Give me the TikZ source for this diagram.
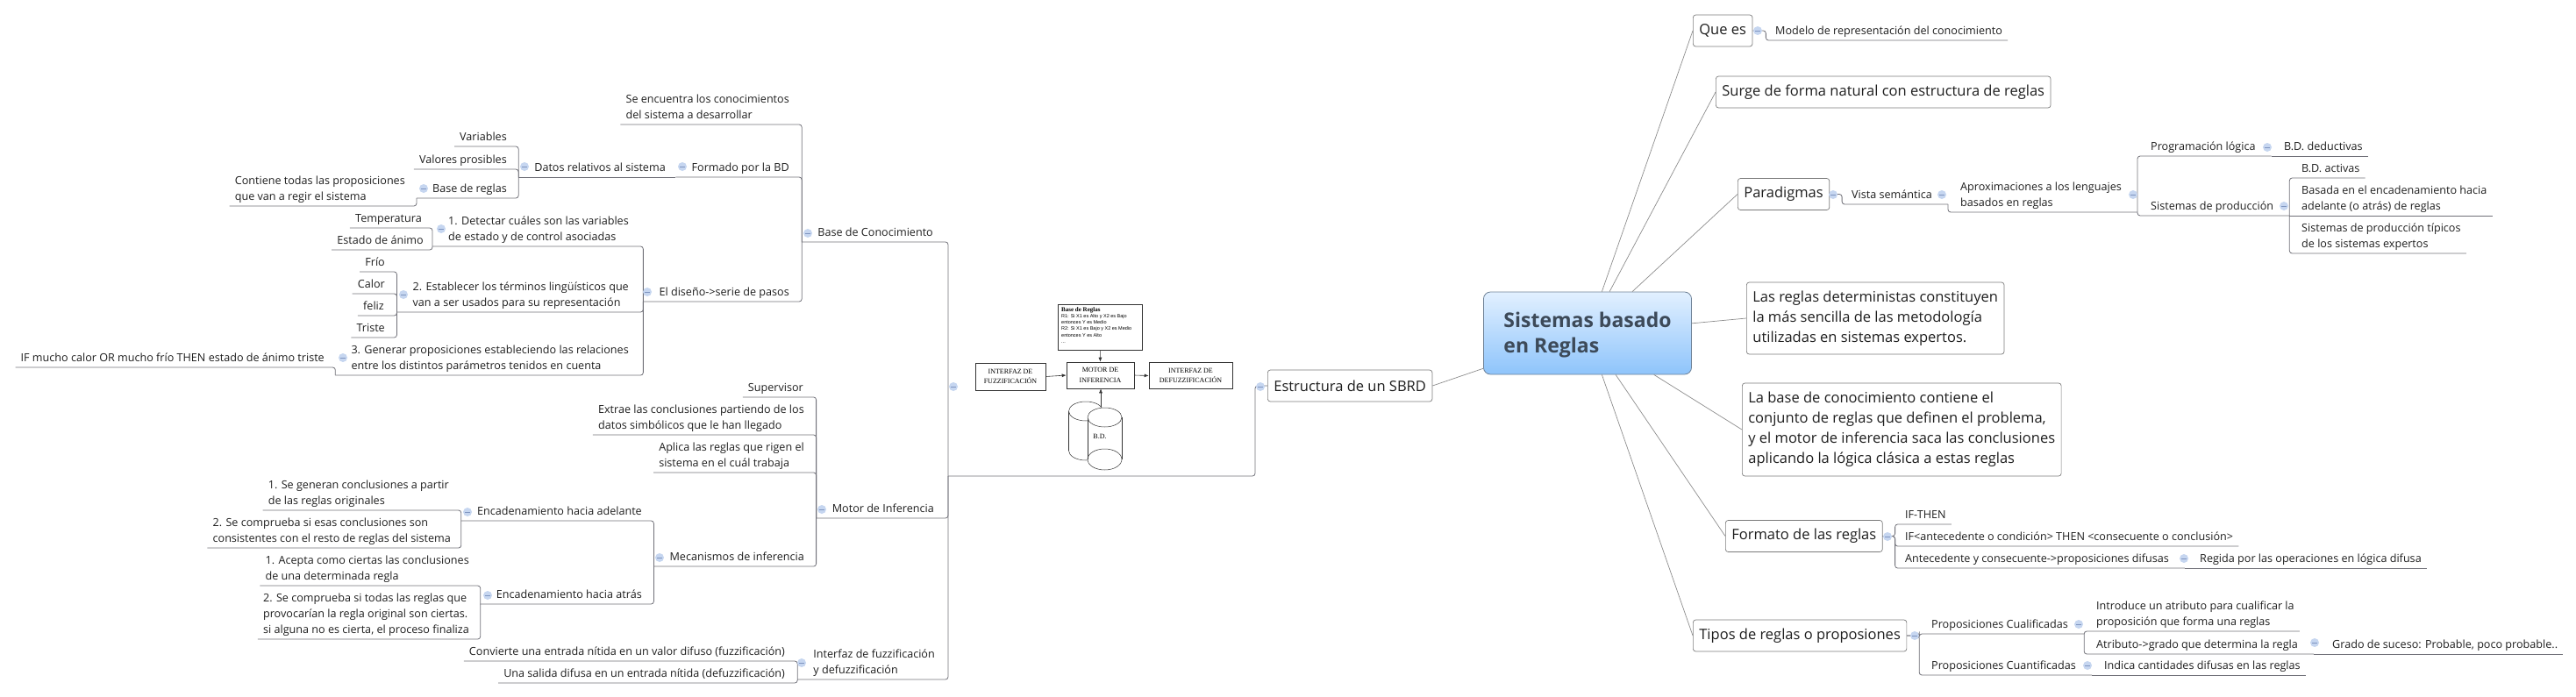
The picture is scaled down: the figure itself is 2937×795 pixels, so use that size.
\documentclass[tikz,border=0pt]{standalone}
\usepackage{fontspec}
\setmainfont{Open Sans}
\newfontfamily\imgserif{Liberation Serif}
\newfontfamily\imgsans{Liberation Sans}
\usetikzlibrary{arrows.meta}
\definecolor{linkgray}{HTML}{707078}
\definecolor{branchgray}{HTML}{8C8C8C}
\definecolor{boxgray}{HTML}{7A7A7A}
\definecolor{foldblue}{HTML}{C6D6F0}
\definecolor{foldmark}{HTML}{7F95C0}
\definecolor{rootline}{HTML}{6E8196}
\definecolor{roottop}{HTML}{E2F0FF}
\definecolor{rootbottom}{HTML}{8EC4FB}
\definecolor{roottext}{HTML}{3D4A59}
\definecolor{inktext}{HTML}{1E1E1E}
\tikzset{
	topic/.style={font=\fontsize{12.6}{18}\selectfont,text=inktext,align=left,inner xsep=18pt,inner ysep=0pt,text depth=6.5pt},
	topicL/.style={topic,anchor=south east},
	topicR/.style={topic,anchor=south west},
	link/.style={draw=linkgray,line width=.8pt,rounded corners=3pt},
	leafL/.style={link,shorten <=12pt},
	leafR/.style={link,shorten >=12pt},
	mainbox/.style={draw=boxgray,line width=.7pt,rounded corners=3pt,anchor=west,align=left,fill=white,text=inktext,font=\fontsize{16.5}{23}\selectfont,inner xsep=7pt,minimum height=36pt},
	branch/.style={draw=branchgray,line width=.7pt},
	fold/.style={circle,fill=foldblue,inner sep=0pt,minimum size=10pt,path picture={\draw[foldmark,line width=.8pt] ([xshift=2pt]path picture bounding box.west) -- ([xshift=-2pt]path picture bounding box.east);}},
	imgbox/.style={draw=black!80,line width=.6pt,fill=white,align=center,inner sep=0pt,font=\imgserif\fontsize{8}{11.5}\selectfont},
	imgarrow/.style={draw=black!80,line width=.6pt,-{Latex[length=5pt,width=4pt]}},
	imgline/.style={draw=black!80,line width=.5pt}
}
\begin{document}
\begin{tikzpicture}[x=1pt,y=-1pt]
	\useasboundingbox (0,0) rectangle (2937,795);
	
	% Central topic
	\node[draw=rootline,line width=.8pt,rounded corners=8pt,top color=roottop,bottom color=rootbottom,anchor=west,align=left,text=roottext,font=\fontsize{23}{29}\bfseries\selectfont,inner xsep=23pt,minimum height=94pt,text depth=2pt] (root) at (1691,380) {Sistemas basado\\en Reglas};
	
	% Boxes on the right
	\node[mainbox] (quees) at (1930,35) {Que es};
	\node[mainbox] (surge) at (1956,105) {Surge de forma natural con estructura de reglas};
	\node[mainbox] (paradigmas) at (1981,221.5) {Paradigmas};
	\node[mainbox,minimum height=82pt] (deterministas) at (1991,363) {Las reglas deterministas constituyen\\la más sencilla de las metodología\\utilizadas en sistemas expertos.};
	\node[mainbox,minimum height=106pt] (labase) at (1986,490) {La base de conocimiento contiene el\\conjunto de reglas que definen el problema,\\y el motor de inferencia saca las conclusiones\\aplicando la lógica clásica a estas reglas};
	\node[mainbox] (formato) at (1967,611.5) {Formato de las reglas};
	\node[mainbox] (tipos) at (1930,725) {Tipos de reglas o proposiones};
	
	% Box on the left
	\node[mainbox] (estructura) at (1445,440) {Estructura de un SBRD};
	\coordinate (split) at (1081,543);
	
	\draw[branch] (root) -- (quees.west);
	\draw[branch] (root) -- (surge.west);
	\draw[branch] (root) -- (paradigmas.west);
	\draw[branch] (root) -- (deterministas.west);
	\draw[branch] (root) -- (labase.west);
	\draw[branch] (root) -- (formato.west);
	\draw[branch] (root) -- (tipos.west);
	\draw[branch] (root) -- (estructura.east);
	
	% Base de Conocimiento
	\node[topicL] (base) at (1082,276) {Base de Conocimiento};
	\node[topicL] (senc) at (918,142) {Se encuentra los conocimientos\\del sistema a desarrollar};
	\node[topicL] (formado) at (918,202) {Formado por la BD};
	\node[topicL] (datos) at (777,202) {Datos relativos al sistema};
	\node[topicL] (vars) at (596,167) {Variables};
	\node[topicL] (valores) at (596,193) {Valores prosibles};
	\node[topicL] (reglas) at (596,226) {Base de reglas};
	\node[topicL] (contiene) at (480,235) {Contiene todas las proposiciones\\que van a regir el sistema};
	\node[topicL] (diseno) at (918,344) {El diseño->serie de pasos};
	\node[topicL] (detectar) at (735,281) {1. Detectar cuáles son las variables\\de estado y de control asociadas};
	\node[topicL] (temp) at (499,260) {Temperatura};
	\node[topicL] (estado) at (501,285) {Estado de ánimo};
	\node[topicL] (establecer) at (735,356) {2. Establecer los términos lingüísticos que\\van a ser usados para su representación};
	\node[topicL] (frio) at (457,310) {Frío};
	\node[topicL] (calor) at (457,335) {Calor};
	\node[topicL] (feliz) at (456,360) {feliz};
	\node[topicL] (triste) at (457,385) {Triste};
	\node[topicL] (generar) at (735,428) {3. Generar proposiciones estableciendo las relaciones\\entre los distintos parámetros tenidos en cuenta};
	\node[topicL] (ifmucho) at (388,419) {IF mucho calor OR mucho frío THEN estado de ánimo triste};
	
	\draw[link] (base.south west) -| (split);
	\draw[leafL] (senc.south west) -| (base.south west);
	\draw[link] (formado.south west) -| (base.south west);
	\draw[link] (diseno.south west) -| (base.south west);
	\draw[link] (datos.south west) -- (formado.south west);
	\draw[leafL] (vars.south west) -| (datos.south west);
	\draw[leafL] (valores.south west) -| (datos.south west);
	\draw[link] (reglas.south west) -| (datos.south west);
	\draw[leafL] (contiene.south west) -| (reglas.south west);
	\draw[link] (detectar.south west) -| (diseno.south west);
	\draw[link] (establecer.south west) -| (diseno.south west);
	\draw[link] (generar.south west) -| (diseno.south west);
	\draw[leafL] (temp.south west) -| (detectar.south west);
	\draw[leafL] (estado.south west) -| (detectar.south west);
	\draw[leafL] (frio.south west) -| (establecer.south west);
	\draw[leafL] (calor.south west) -| (establecer.south west);
	\draw[leafL] (feliz.south west) -| (establecer.south west);
	\draw[leafL] (triste.south west) -| (establecer.south west);
	\draw[leafL] (ifmucho.south west) -| (generar.south west);
	
	% Motor de Inferencia
	\node[topicL] (motor) at (1083,591) {Motor de Inferencia};
	\node[topicL] (supervisor) at (934,453) {Supervisor};
	\node[topicL] (extrae) at (935,496) {Extrae las conclusiones partiendo de los\\datos simbólicos que le han llegado};
	\node[topicL] (aplica) at (935,539) {Aplica las reglas que rigen el\\sistema en el cuál trabaja};
	\node[topicL] (mecanismos) at (935,646) {Mecanismos de inferencia};
	\node[topicL] (adelante) at (750,594) {Encadenamiento hacia adelante};
	\node[topicL] (genera) at (530,582) {1. Se generan conclusiones a partir\\de las reglas originales};
	\node[topicL] (comprueba) at (532,625) {2. Se comprueba si esas conclusiones son\\consistentes con el resto de reglas del sistema};
	\node[topicL] (atras) at (750,689) {Encadenamiento hacia atrás};
	\node[topicL] (acepta) at (553,668) {1. Acepta como ciertas las conclusiones\\de una determinada regla};
	\node[topicL] (todas) at (553,729) {2. Se comprueba si todas las reglas que\\provocarían la regla original son ciertas.\\si alguna no es cierta, el proceso finaliza};
	
	\draw[link] (motor.south west) -| (split);
	\draw[leafL] (supervisor.south west) -| (motor.south west);
	\draw[leafL] (extrae.south west) -| (motor.south west);
	\draw[leafL] (aplica.south west) -| (motor.south west);
	\draw[link] (mecanismos.south west) -| (motor.south west);
	\draw[link] (adelante.south west) -| (mecanismos.south west);
	\draw[link] (atras.south west) -| (mecanismos.south west);
	\draw[leafL] (genera.south west) -| (adelante.south west);
	\draw[leafL] (comprueba.south west) -| (adelante.south west);
	\draw[leafL] (acepta.south west) -| (atras.south west);
	\draw[leafL] (todas.south west) -| (atras.south west);
	
	% Interfaz
	\node[topicL] (interfaz) at (1084,775) {Interfaz de fuzzificación\\y defuzzificación};
	\node[topicL] (convierte) at (913,754) {Convierte una entrada nítida en un valor difuso (fuzzificación)};
	\node[topicL] (salida) at (913,779) {Una salida difusa en un entrada nítida (defuzzificación)};
	
	\draw[link] (interfaz.south west) -| (split);
	\draw[leafL] (convierte.south west) -| (interfaz.south west);
	\draw[leafL] (salida.south west) -| (interfaz.south west);
	
	\draw[link] (estructura.west) -- ++(-14,0) |- (split);
	
	% Block diagram
	\node[imgbox,anchor=north west,minimum width=96pt,minimum height=52pt] (rulebase) at (1206,347) {};
	\node[anchor=north west,inner sep=0pt,align=left,font=\imgsans\fontsize{5.5}{7.3}\selectfont] (ruletext) at (1210,350) {{\imgserif\bfseries\fontsize{7}{7.3}\selectfont Base de Reglas}\\R1: Si X1 es Alto y X2 es Bajo\\entonces Y es Medio\\R2: Si X1 es Bajo y X2 es Medio\\entonces Y es Alto\\...};
	\node[imgbox,minimum width=77pt,minimum height=30pt] (motorimg) at (1254.5,428) {MOTOR DE\\INFERENCIA};
	\node[imgbox,minimum width=80pt,minimum height=31pt] (fuzz) at (1152,429.5) {INTERFAZ DE\\FUZZIFICACIÓN};
	\node[imgbox,minimum width=95pt,minimum height=30pt] (defuzz) at (1357.5,428.5) {INTERFAZ DE\\DEFUZZIFICACIÓN};
	
	\draw[imgline,fill=white] (1238,514) ellipse [x radius=19.5pt,y radius=11pt];
	\fill[white] (1218.5,469) rectangle (1257.5,514);
	\draw[imgline] (1218.5,469) -- (1218.5,514);
	\draw[imgline] (1257.5,469) -- (1257.5,514);
	\draw[imgline,fill=white] (1238,469) ellipse [x radius=19.5pt,y radius=11pt];
	\draw[imgline,fill=white] (1259.5,524) ellipse [x radius=19.5pt,y radius=12pt];
	\fill[white] (1240,476) rectangle (1279,524);
	\draw[imgline] (1240,476) -- (1240,524);
	\draw[imgline] (1279,476) -- (1279,524);
	\draw[imgline,fill=white] (1259.5,476) ellipse [x radius=19.5pt,y radius=11pt];
	\draw[imgline] (1240,524) arc [start angle=180,end angle=0,x radius=19.5pt,y radius=12pt];
	\node[font=\imgserif\fontsize{8}{9}\selectfont,inner sep=0pt] (bd) at (1254,498) {B.D.};
	\coordinate (bdtop) at (1255,464);
	
	\draw[imgarrow] (rulebase.south) -- (motorimg.north);
	\draw[imgarrow] (fuzz.east) -- (motorimg.west);
	\draw[imgarrow] (motorimg.east) -- (defuzz.west);
	\draw[imgarrow] (bdtop) -- (motorimg.south -| bdtop);
	
	% Que es and Paradigmas
	\node[topicR] (modelo) at (2006,46) {Modelo de representación del conocimiento};
	\node[topicR] (vista) at (2093,233) {Vista semántica};
	\node[topicR] (aprox) at (2217,242) {Aproximaciones a los lenguajes\\basados en reglas};
	\node[topicR] (prog) at (2434,178) {Programación lógica};
	\node[topicR] (deductivas) at (2586,178) {B.D. deductivas};
	\node[topicR] (sisprod) at (2434,246) {Sistemas de producción};
	\node[topicR] (activas) at (2606,203) {B.D. activas};
	\node[topicR] (basada) at (2606,246) {Basada en el encadenamiento hacia\\adelante (o atrás) de reglas};
	\node[topicR] (tipicos) at (2606,289) {Sistemas de producción típicos\\de los sistemas expertos};
	
	\draw[leafR] (quees.east) -- ++(15,0) |- (modelo.south east);
	\draw[link] (paradigmas.east) -- ++(14,0) |- (vista.south east);
	\draw[link] (vista.south east) |- (aprox.south east);
	\draw[link] (aprox.south east) |- (prog.south east);
	\draw[link] (aprox.south east) |- (sisprod.south east);
	\draw[leafR] (prog.south east) -- (deductivas.south east);
	\draw[leafR] (sisprod.south east) |- (activas.south east);
	\draw[leafR] (sisprod.south east) -- (basada.south east);
	\draw[leafR] (sisprod.south east) |- (tipicos.south east);
	
	% Formato de las reglas
	\node[topicR] (ifthen) at (2154,598) {IF-THEN};
	\node[topicR] (ifant) at (2154,623) {IF<antecedente o condición> THEN <consecuente o conclusión>};
	\node[topicR] (antec) at (2154,648) {Antecedente y consecuente->proposiciones difusas};
	\node[topicR] (regida) at (2490,648) {Regida por las operaciones en lógica difusa};
	
	\draw[leafR] (formato.east) -- ++(14,0) |- (ifthen.south east);
	\draw[leafR] (formato.east) -- ++(14,0) |- (ifant.south east);
	\draw[link] (formato.east) -- ++(14,0) |- (antec.south east);
	\draw[leafR] (antec.south east) -- (regida.south east);
	
	% Tipos de reglas
	\node[topicR] (cualif) at (2184,723) {Proposiciones Cualificadas};
	\node[topicR] (cuantif) at (2184,770) {Proposiciones Cuantificadas};
	\node[topicR] (introduce) at (2372,720) {Introduce un atributo para cualificar la\\proposición que forma una reglas};
	\node[topicR] (atributo) at (2372,746) {Atributo->grado que determina la regla};
	\node[topicR] (grado) at (2641,746) {Grado de suceso: Probable, poco probable..};
	\node[topicR] (indica) at (2381,770) {Indica cantidades difusas en las reglas};
	
	\draw[link] (tipos.east) -- ++(14,0) |- (cualif.south east);
	\draw[link] (tipos.east) -- ++(14,0) |- (cuantif.south east);
	\draw[leafR] (cualif.south east) |- (introduce.south east);
	\draw[link] (cualif.south east) |- (atributo.south east);
	\draw[leafR] (atributo.south east) -- (grado.south east);
	\draw[leafR] (cuantif.south east) -- (indica.south east);
	
	% Fold marks
	\foreach \x/\y in {598/190,778/190,483/215,503/261,738/333,460/336,391/408,921/266,937/581,752/636,533/584,556/679,914/756,1087/441,1437/441,2004/35,2090/222,2214/222,2432/222,2585/168,2604/235,2152/612,2490/637,2183/725,2370/712,2639/733,2380/759}
		\node[fold] (fold\x) at (\x,\y) {};
\end{tikzpicture}
\end{document}
